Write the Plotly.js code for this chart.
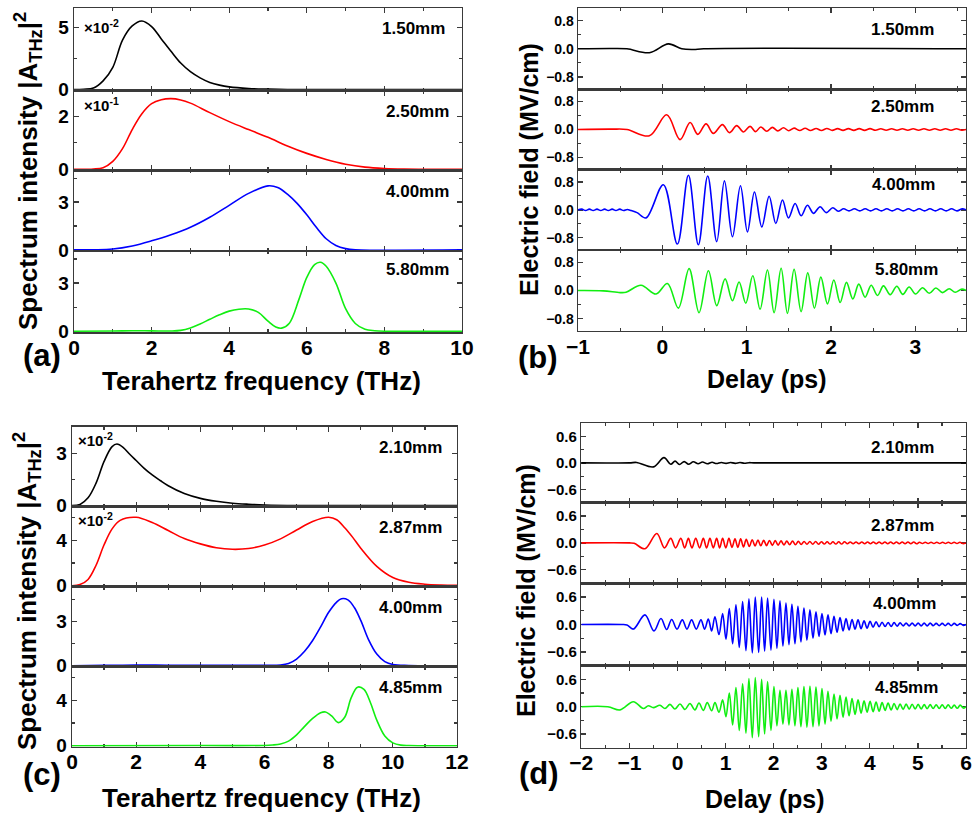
<!DOCTYPE html>
<html><head><meta charset="utf-8">
<script src="https://cdn.plot.ly/plotly-3.0.1.min.js"></script>
<style>body{margin:0;background:#fff}#chart{width:972px;height:816px}</style>
</head><body><div id="chart"></div>
<script>
// ---------------- DATA ----------------
const labelsAB = ['1.50mm', '2.50mm', '4.00mm', '5.80mm'];
const labelsCD = ['2.10mm', '2.87mm', '4.00mm', '4.85mm'];
const multA = ['×10<sup>-2</sup>', '×10<sup>-1</sup>'];
const multC = ['×10<sup>-2</sup>', '×10<sup>-2</sup>'];
const lineColors = ['#000000', '#ff0000', '#0000ff', '#11ee11'];

// (a) spectra: [frequency THz, intensity]
const specA_150 = [[0,0],[0.25,0.03],[0.5,0.12],[0.75,0.7],[1,1.8],[1.25,4.0],[1.5,5.15],[1.75,5.55],[2,5.1],[2.25,4.1],[2.5,3.1],[2.75,2.15],[3,1.45],[3.25,0.95],[3.5,0.58],[3.75,0.36],[4,0.22],[4.5,0.09],[5,0.04],[5.5,0.01],[6,0],[10,0]];
const specA_250 = [[0,0],[0.5,0.01],[0.75,0.06],[1,0.3],[1.25,0.78],[1.5,1.5],[1.75,2.1],[2,2.48],[2.25,2.63],[2.5,2.67],[2.75,2.62],[3,2.5],[3.5,2.14],[4,1.8],[4.5,1.5],[5,1.21],[5.5,0.88],[6,0.6],[6.5,0.37],[7,0.19],[7.5,0.08],[8,0.03],[8.5,0.01],[10,0]];
const specA_400 = [[0,0],[1,0.06],[1.5,0.25],[2,0.57],[2.5,0.95],[3,1.42],[3.5,2.05],[4,2.8],[4.5,3.55],[5,4.02],[5.25,3.92],[5.5,3.5],[5.75,2.92],[6,2.2],[6.25,1.4],[6.5,0.7],[6.75,0.28],[7,0.08],[7.25,0.01],[10,0]];
const specA_580 = [[0,0],[1,0.01],[1.5,0.03],[2,0.02],[2.5,0.01],[2.75,0.05],[3,0.2],[3.25,0.45],[3.5,0.74],[3.75,1.02],[4,1.25],[4.25,1.37],[4.5,1.38],[4.75,1.17],[5,0.62],[5.2,0.26],[5.35,0.19],[5.55,0.5],[5.8,2.0],[6,3.35],[6.2,4.15],[6.35,4.3],[6.5,4.05],[6.75,3.0],[7,1.4],[7.25,0.48],[7.5,0.12],[7.75,0.03],[8,0],[10,0]];

// (b) fields: [delay ps, field MV/cm] (extrema)
const fieldB_150 = [[-1,0],[-0.6,0.01],[-0.42,0],[-0.154,-0.11],[0.072,0.14],[0.23,0],[0.37,-0.02],[0.49,0],[3.6,0]];
const fieldB_250 = [[-1,0],[-0.6,0.01],[-0.42,0],[-0.154,-0.18],[0.052,0.42],[0.21,-0.29],[0.329,0.2],[0.42,-0.14],[0.518,0.16],[0.605,-0.11],[0.712,0.14],[0.795,-0.09],[0.882,0.11],[0.961,-0.07],[1.04,0.09],[1.104,-0.06],[1.167,0.07],[1.238,-0.05],[1.305,0.06],[1.369,-0.04],[1.436,0.05],[1.499,-0.035],[1.562,0.04],[1.629,-0.03],[1.693,0.035],[1.756,-0.03],[1.823,0.03],[1.886,-0.03],[1.95,0.03],[2.014,-0.025],[2.078,0.025],[2.142,-0.025],[2.206,0.025],[2.27,-0.025],[2.334,0.025],[2.398,-0.025],[2.462,0.025],[2.526,-0.02],[2.59,0.02],[2.654,-0.02],[2.718,0.02],[2.782,-0.02],[2.846,0.02],[2.91,-0.02],[2.974,0.02],[3.038,-0.02],[3.102,0.02],[3.166,-0.02],[3.23,0.02],[3.294,-0.02],[3.358,0.02],[3.422,-0.02],[3.486,0.02],[3.55,-0.02],[3.6,0]];
const fieldB_400 = [[-1,0],[-0.955,0.02],[-0.91,-0.02],[-0.865,0.02],[-0.82,-0.02],[-0.775,0.02],[-0.73,-0.02],[-0.685,0.02],[-0.64,-0.02],[-0.595,0.02],[-0.55,-0.02],[-0.505,0.02],[-0.46,-0.02],[-0.415,0.01],[-0.37,-0.02],[-0.3,-0.08],[-0.193,-0.23],[0.012,0.72],[0.178,-0.98],[0.309,0.99],[0.427,-1.0],[0.538,0.97],[0.645,-0.91],[0.736,0.83],[0.831,-0.77],[0.926,0.69],[1.009,-0.63],[1.092,0.51],[1.179,-0.49],[1.266,0.39],[1.345,-0.39],[1.424,0.28],[1.495,-0.23],[1.574,0.18],[1.645,-0.17],[1.72,0.13],[1.792,-0.1],[1.871,0.09],[1.942,-0.08],[2.021,0.06],[2.085,-0.04],[2.149,0.03],[2.213,-0.03],[2.277,0.03],[2.341,-0.03],[2.405,0.03],[2.469,-0.03],[2.533,0.03],[2.597,-0.03],[2.661,0.03],[2.725,-0.03],[2.789,0.03],[2.853,-0.03],[2.917,0.03],[2.981,-0.03],[3.045,0.03],[3.109,-0.03],[3.173,0.03],[3.237,-0.03],[3.301,0.03],[3.365,-0.03],[3.429,0.03],[3.493,-0.03],[3.557,0.03],[3.6,0]];
const fieldB_580 = [[-1,0],[-0.7,-0.01],[-0.5,-0.06],[-0.43,-0.05],[-0.253,0.15],[-0.075,-0.1],[0.06,0.2],[0.19,-0.5],[0.317,0.62],[0.435,-0.63],[0.546,0.56],[0.645,-0.43],[0.744,0.33],[0.831,-0.29],[0.91,0.24],[0.989,-0.36],[1.072,0.42],[1.159,-0.53],[1.246,0.58],[1.325,-0.63],[1.408,0.63],[1.483,-0.65],[1.562,0.6],[1.645,-0.6],[1.724,0.5],[1.803,-0.5],[1.879,0.38],[1.958,-0.38],[2.033,0.3],[2.108,-0.34],[2.183,0.23],[2.258,-0.24],[2.329,0.18],[2.404,-0.19],[2.476,0.15],[2.551,-0.14],[2.622,0.13],[2.701,-0.12],[2.78,0.12],[2.851,-0.11],[2.926,0.1],[3.002,-0.1],[3.085,0.08],[3.164,-0.08],[3.243,0.07],[3.322,-0.06],[3.401,0.05],[3.472,-0.05],[3.551,0.04],[3.6,0]];

// (c) spectra
const specC_210 = [[0,0],[0.25,0.07],[0.5,0.45],[0.75,1.3],[1,2.55],[1.25,3.4],[1.4,3.55],[1.6,3.35],[1.8,2.96],[2,2.6],[2.25,2.15],[2.5,1.77],[2.75,1.45],[3,1.15],[3.5,0.7],[4,0.42],[4.5,0.25],[5,0.14],[5.5,0.08],[6,0.04],[7,0.01],[12,0]];
const specC_287 = [[0,0],[0.25,0.1],[0.5,0.55],[0.75,1.8],[1,3.6],[1.25,5.0],[1.5,5.75],[2,6.02],[2.5,5.55],[3,4.85],[3.5,4.15],[4,3.68],[4.5,3.34],[5,3.2],[5.5,3.27],[6,3.58],[6.5,4.12],[7,4.9],[7.5,5.65],[8,6.02],[8.25,5.8],[8.5,5.1],[8.75,4.25],[9,3.3],[9.5,1.7],[10,0.72],[10.5,0.3],[11,0.13],[11.5,0.06],[12,0.03]];
const specC_400 = [[0,0],[1,0.02],[2,0.05],[3,0.03],[4,0.02],[5,0.02],[6,0.03],[6.5,0.05],[6.75,0.15],[7,0.45],[7.25,0.98],[7.5,1.72],[7.75,2.65],[8,3.65],[8.25,4.35],[8.4,4.58],[8.6,4.5],[8.8,3.98],[9,3.1],[9.25,1.75],[9.5,0.79],[9.75,0.28],[10,0.08],[10.5,0.01],[12,0]];
const specC_485 = [[0,0],[4,0.01],[6,0.02],[6.25,0.06],[6.5,0.15],[6.75,0.4],[7,0.95],[7.25,1.7],[7.5,2.4],[7.75,2.9],[7.9,2.97],[8.1,2.6],[8.3,2.03],[8.5,2.5],[8.7,4.2],[8.9,5.15],[9.1,4.95],[9.3,3.8],[9.5,2.25],[9.75,0.85],[10,0.25],[10.25,0.05],[10.5,0.01],[12,0]];

// (d) fields
const fieldD_210 = [[-2,0],[-1,0],[-0.85,0.01],[-0.5,-0.09],[-0.28,0.12],[-0.14,-0.03],[-0.05,0.04],[0.04,-0.035],[0.14,0.03],[0.23,-0.03],[0.33,0.025],[0.43,-0.02],[0.52,0.02],[0.62,-0.02],[0.72,0.015],[0.81,-0.015],[0.91,0.01],[1.01,-0.01],[1.1,0.01],[1.2,-0.01],[1.3,0.008],[1.39,-0.008],[1.49,0.005],[1.59,0],[6,0]];
const fieldD_287 = [[-2,0],[-1,0],[-0.9,-0.01],[-0.675,-0.13],[-0.43,0.21],[-0.27,-0.11],[-0.14,0.1],[-0.04,-0.11],[0.07,0.1],[0.15,-0.11],[0.227,0.1],[0.3,-0.11],[0.38,0.1],[0.46,-0.11],[0.537,0.1],[0.606,-0.11],[0.675,0.1],[0.745,-0.11],[0.814,0.1],[0.877,-0.11],[0.939,0.1],[1.005,-0.11],[1.07,0.1],[1.133,-0.1],[1.196,0.09],[1.255,-0.1],[1.314,0.09],[1.372,-0.09],[1.43,0.08],[1.493,-0.08],[1.555,0.07],[1.614,-0.07],[1.673,0.065],[1.733,-0.065],[1.793,0.06],[1.853,-0.06],[1.913,0.055],[1.973,-0.055],[2.033,0.05],[2.093,-0.05],[2.153,0.045],[2.213,-0.045],[2.273,0.04],[2.333,-0.04],[2.393,0.04],[2.453,-0.04],[2.513,0.035],[2.573,-0.035],[2.633,0.03],[2.693,-0.03],[2.753,0.03],[2.813,-0.03],[2.873,0.03],[2.933,-0.03],[2.993,0.025],[3.053,-0.025],[3.113,0.025],[3.173,-0.025],[3.233,0.025],[3.293,-0.025],[3.353,0.025],[3.413,-0.025],[3.473,0.025],[3.533,-0.02],[3.593,0.02],[3.653,-0.02],[3.713,0.02],[3.773,-0.02],[3.833,0.02],[3.893,-0.02],[3.953,0.02],[4.013,-0.02],[4.073,0.02],[4.133,-0.02],[4.193,0.02],[4.253,-0.02],[4.313,0.02],[4.373,-0.02],[4.433,0.02],[4.493,-0.02],[4.553,0.02],[4.613,-0.02],[4.673,0.02],[4.733,-0.02],[4.793,0.02],[4.853,-0.02],[4.913,0.02],[4.973,-0.02],[5.033,0.015],[5.093,-0.015],[5.153,0.015],[5.213,-0.015],[5.273,0.015],[5.333,-0.015],[5.393,0.015],[5.453,-0.015],[5.513,0.015],[5.573,-0.015],[5.633,0.015],[5.693,-0.015],[5.753,0.015],[5.813,-0.015],[5.873,0.015],[5.933,-0.015],[6,0]];
const fieldD_400 = [[-2,0],[-1.161,0],[-1.05,-0.01],[-0.918,-0.1],[-0.676,0.21],[-0.489,-0.14],[-0.343,0.13],[-0.225,-0.11],[-0.121,0.11],[-0.01,-0.1],[0.1,0.1],[0.197,-0.1],[0.294,0.1],[0.391,-0.1],[0.488,0.1],[0.565,-0.1],[0.641,0.12],[0.71,-0.14],[0.779,0.17],[0.863,-0.22],[0.939,0.24],[1.008,-0.32],[1.078,0.35],[1.147,-0.42],[1.216,0.43],[1.285,-0.5],[1.355,0.5],[1.424,-0.57],[1.486,0.56],[1.556,-0.62],[1.618,0.6],[1.688,-0.61],[1.75,0.6],[1.812,-0.58],[1.874,0.58],[1.944,-0.56],[2.006,0.55],[2.068,-0.52],[2.131,0.52],[2.193,-0.47],[2.256,0.47],[2.318,-0.44],[2.38,0.44],[2.443,-0.42],[2.505,0.4],[2.567,-0.38],[2.63,0.36],[2.692,-0.34],[2.755,0.32],[2.818,-0.3],[2.88,0.28],[2.943,-0.26],[3.005,0.24],[3.068,-0.23],[3.13,0.21],[3.193,-0.2],[3.255,0.18],[3.318,-0.17],[3.38,0.15],[3.443,-0.14],[3.505,0.13],[3.568,-0.12],[3.63,0.11],[3.693,-0.1],[3.755,0.1],[3.818,-0.09],[3.88,0.08],[3.943,-0.08],[4.005,0.07],[4.068,-0.06],[4.13,0.06],[4.193,-0.05],[4.255,0.05],[4.318,-0.045],[4.38,0.045],[4.443,-0.04],[4.505,0.04],[4.568,-0.035],[4.63,0.035],[4.693,-0.03],[4.755,0.03],[4.818,-0.03],[4.88,0.03],[4.943,-0.03],[5.005,0.03],[5.068,-0.03],[5.13,0.03],[5.193,-0.03],[5.255,0.03],[5.318,-0.025],[5.38,0.025],[5.443,-0.025],[5.505,0.025],[5.568,-0.025],[5.63,0.025],[5.693,-0.025],[5.755,0.025],[5.818,-0.02],[5.88,0.02],[5.943,-0.02],[6,0]];
const fieldD_485 = [[-2,0],[-1.45,0],[-1.195,-0.07],[-0.917,0.11],[-0.71,-0.04],[-0.606,0.02],[-0.502,-0.02],[-0.364,0.03],[-0.26,-0.04],[-0.156,0.05],[-0.052,-0.05],[0.052,0.06],[0.156,-0.06],[0.259,0.07],[0.363,-0.07],[0.447,0.08],[0.537,-0.08],[0.62,0.09],[0.71,-0.09],[0.779,0.09],[0.863,-0.12],[0.939,0.15],[1.008,-0.22],[1.078,0.3],[1.147,-0.4],[1.216,0.42],[1.285,-0.52],[1.355,0.5],[1.424,-0.58],[1.486,0.62],[1.556,-0.68],[1.618,0.64],[1.688,-0.66],[1.75,0.6],[1.812,-0.6],[1.874,0.55],[1.944,-0.52],[2.006,0.44],[2.068,-0.42],[2.131,0.36],[2.193,-0.38],[2.256,0.36],[2.318,-0.4],[2.38,0.38],[2.443,-0.42],[2.505,0.42],[2.567,-0.44],[2.63,0.44],[2.692,-0.45],[2.755,0.45],[2.818,-0.44],[2.88,0.43],[2.943,-0.42],[3.005,0.4],[3.068,-0.38],[3.13,0.34],[3.193,-0.32],[3.255,0.28],[3.318,-0.27],[3.38,0.25],[3.443,-0.23],[3.505,0.21],[3.568,-0.2],[3.63,0.18],[3.693,-0.17],[3.755,0.15],[3.818,-0.14],[3.88,0.13],[3.943,-0.12],[4.005,0.12],[4.068,-0.11],[4.13,0.1],[4.193,-0.1],[4.255,0.09],[4.318,-0.08],[4.38,0.08],[4.443,-0.07],[4.505,0.07],[4.568,-0.065],[4.63,0.06],[4.693,-0.06],[4.755,0.06],[4.818,-0.055],[4.88,0.055],[4.943,-0.05],[5.005,0.05],[5.068,-0.05],[5.13,0.045],[5.193,-0.045],[5.255,0.045],[5.318,-0.04],[5.38,0.04],[5.443,-0.04],[5.505,0.04],[5.568,-0.04],[5.63,0.04],[5.693,-0.035],[5.755,0.035],[5.818,-0.035],[5.88,0.035],[5.943,-0.03],[6,0]];

// ---------------- LAYOUT GEOMETRY ----------------
const W = 972, H = 816;
const FONT = 'Liberation Sans, Arial, sans-serif';
const panels = [
  {name:'(a)', data:[specA_150,specA_250,specA_400,specA_580], labels:labelsAB, mult:multA,
   x:[74,462], rows:[8,90.7,170.3,251,332.3], xr:[0,10], xd:2, xm:1,
   yr:[[-0.09,6.6],[-0.04,2.97],[-0.07,5],[-0.07,5]], yd:[5,2,3,3], ym:[2.5,1,1.5,1.5], yfs:19,
   lab:[[413,29],[417,112],[417,191],[417,270]], multPos:[[82,26],[82,104]],
   ytitle:'Spectrum intensity |A<sub>THz</sub>|<sup>2</sup>', yt:[28,171], ytfs:26,
   xtitle:'Terahertz frequency (THz)', xt:[261,381], xtfs:26, pl:[42,355]},
  {name:'(b)', data:[fieldB_150,fieldB_250,fieldB_400,fieldB_580], labels:labelsAB,
   x:[578,966], rows:[8.3,89.3,169.7,250,331], xr:[-1,3.6], xd:1, xm:0.5,
   yr:[[-1.15,1.15],[-1.15,1.15],[-1.15,1.15],[-1.15,1.15]], yd:[0.8,0.8,0.8,0.8], ym:[0.4,0.4,0.4,0.4], yfs:14, yfmt:'.1f',
   lab:[[902,30],[902,107],[903,185],[906,270]],
   ytitle:'Electric field (MV/cm)', yt:[529,170], ytfs:25, xtitle:'Delay (ps)', xt:[766,379], xtfs:25, pl:[538,357]},
  {name:'(c)', data:[specC_210,specC_287,specC_400,specC_485], labels:labelsCD, mult:multC,
   x:[72,457], rows:[426.7,506.7,586.7,666.7,746.7], xr:[0,12], xd:2, xm:1,
   yr:[[-0.06,4.55],[-0.09,6.95],[-0.07,5.4],[-0.09,6.95]], yd:[3,4,3,4], ym:[1.5,2,1.5,2], yfs:19,
   lab:[[410,447],[410,527],[410,607],[410,687]], multPos:[[76,439],[76,519]],
   ytitle:'Spectrum intensity |A<sub>THz</sub>|<sup>2</sup>', yt:[27,591], ytfs:26,
   xtitle:'Terahertz frequency (THz)', xt:[261,798], xtfs:26, pl:[42,774]},
  {name:'(d)', data:[fieldD_210,fieldD_287,fieldD_400,fieldD_485], labels:labelsCD,
   x:[581.3,966], rows:[423.3,502.5,583.3,665.7,747.7], xr:[-2,6], xd:1, xm:0.5,
   yr:[[-0.9,0.9],[-0.9,0.9],[-0.9,0.9],[-0.9,0.9]], yd:[0.6,0.6,0.6,0.6], ym:[0.3,0.3,0.3,0.3], yfs:15, yfmt:'.1f',
   lab:[[902,447],[902,525],[904,603],[906,687]],
   ytitle:'Electric field (MV/cm)', yt:[526,591], ytfs:25, xtitle:'Delay (ps)', xt:[764,799], xtfs:25, pl:[539,773]}
];

const layout = {
  width: W, height: H, margin:{l:0,r:0,t:0,b:0},
  paper_bgcolor:'#fff', plot_bgcolor:'#fff', showlegend:false,
  font:{family:FONT, color:'#000', weight:'bold'},
  annotations: []
};
const traces = [];
const px = x => x / W, py = y => 1 - y / H;
const axStyle = {showline:true, mirror:'ticks', linecolor:'#3a3a3a', linewidth:1.4,
  ticks:'inside', ticklen:5, tickwidth:1.3, tickcolor:'#3a3a3a', layer:'below traces',
  showgrid:false, zeroline:false, fixedrange:true};

panels.forEach((P, pi) => {
  for (let r = 0; r < 4; r++) {
    const n = pi * 4 + r + 1;
    const xk = 'xaxis' + (n === 1 ? '' : n), yk = 'yaxis' + (n === 1 ? '' : n);
    const xs = 'x' + (n === 1 ? '' : n), ys = 'y' + (n === 1 ? '' : n);
    layout[xk] = Object.assign({}, axStyle, {
      domain:[px(P.x[0]), px(P.x[1])], range:P.xr, anchor:ys,
      tick0:0, dtick:P.xd, showticklabels: r === 3, ticklabelstandoff: -4,
      tickfont:{family:FONT, size:21, weight:'bold', color:'#000'},
      minor:{ticks:'inside', ticklen:3, tickwidth:1.2, tickcolor:'#3a3a3a', dtick:P.xm, tick0:0}
    });
    layout[yk] = Object.assign({}, axStyle, {
      domain:[py(P.rows[r+1]), py(P.rows[r])], range:P.yr[r], anchor:xs,
      tick0:0, dtick:P.yd[r], tickformat:P.yfmt || '',
      tickfont:{family:FONT, size:P.yfs, weight:'bold', color:'#000'},
      minor:{ticks:'inside', ticklen:3, tickwidth:1.2, tickcolor:'#3a3a3a', dtick:P.ym[r], tick0:0}
    });
    const pts = P.data[r];
    traces.push({type:'scatter', mode:'lines', xaxis:xs, yaxis:ys,
      x: pts.map(p => p[0]), y: pts.map(p => p[1]),
      line:{color:lineColors[r], width:1.6, shape:'spline', smoothing:1}, hoverinfo:'skip'});
    layout.annotations.push({xref:'paper', yref:'paper', x:px(P.lab[r][0]), y:py(P.lab[r][1]),
      xanchor:'center', yanchor:'middle', showarrow:false, text:P.labels[r],
      font:{family:FONT, size:17, weight:'bold', color:'#000'}});
  }
  if (P.mult) P.mult.forEach((t, i) => layout.annotations.push({xref:'paper', yref:'paper',
    x:px(P.multPos[i][0]), y:py(P.multPos[i][1]), xanchor:'left', yanchor:'middle', showarrow:false,
    text:t, font:{family:FONT, size:15, weight:'bold', color:'#000'}}));
  layout.annotations.push({xref:'paper', yref:'paper', x:px(P.yt[0]), y:py(P.yt[1]), textangle:-90,
    xanchor:'center', yanchor:'middle', showarrow:false, text:P.ytitle,
    font:{family:FONT, size:P.ytfs, weight:'bold', color:'#000'}});
  layout.annotations.push({xref:'paper', yref:'paper', x:px(P.xt[0]), y:py(P.xt[1]),
    xanchor:'center', yanchor:'middle', showarrow:false, text:P.xtitle,
    font:{family:FONT, size:P.xtfs, weight:'bold', color:'#000'}});
  layout.annotations.push({xref:'paper', yref:'paper', x:px(P.pl[0]), y:py(P.pl[1]),
    xanchor:'center', yanchor:'middle', showarrow:false, text:P.name,
    font:{family:FONT, size:31, weight:'bold', color:'#000'}});
});

Plotly.newPlot('chart', traces, layout, {displayModeBar:false, staticPlot:true});
</script>
</body></html>
